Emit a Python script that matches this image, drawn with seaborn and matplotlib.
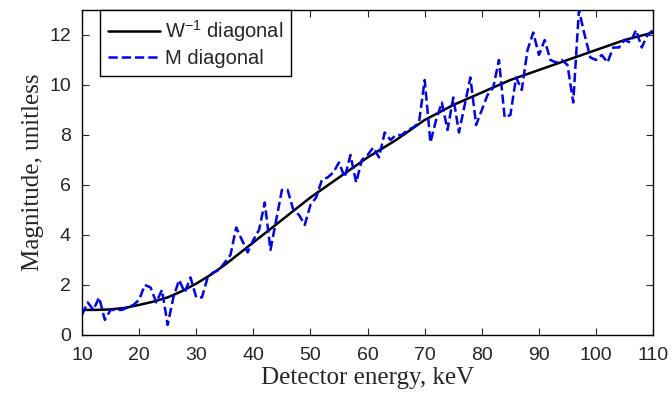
import pandas as pd
import seaborn as sns
import matplotlib
matplotlib.use("Agg")
import matplotlib.pyplot as plt

# Data

w_energy = [10, 12.5, 15, 17.5, 20, 22.5, 25, 27.5, 30, 32.5, 35, 37.5, 40, 42.5,
            45, 47.5, 50, 52.5, 55, 57.5, 60, 62.5, 65, 67.5, 70, 72.5, 75, 77.5,
            80, 82.5, 85, 87.5, 90, 92.5, 95, 97.5, 100, 102.5, 105, 107.5, 110]
w_diag = [1.0, 1.0, 1.02, 1.08, 1.2, 1.33, 1.5, 1.75, 2.05, 2.4, 2.8, 3.25, 3.7, 4.15,
          4.6, 5.05, 5.5, 5.9, 6.3, 6.7, 7.1, 7.45, 7.8, 8.2, 8.6, 8.9, 9.2, 9.45,
          9.7, 9.95, 10.2, 10.4, 10.6, 10.8, 11.0, 11.2, 11.4, 11.6, 11.8, 11.95, 12.1]

m_energy = list(range(10, 111))
m_diag = [0.8, 1.3, 1.0, 1.5, 0.6, 1.0, 1.0, 1.0, 1.1, 1.2,
          1.4, 2.0, 1.9, 1.3, 1.8, 0.4, 1.5, 2.2, 1.7, 2.3,
          1.5, 1.5, 2.3, 2.5, 2.6, 2.9, 3.2, 4.3, 3.8, 3.3,
          3.8, 4.2, 5.3, 3.4, 4.6, 5.8, 5.8, 5.0, 4.8, 4.4,
          5.2, 5.5, 6.2, 6.3, 6.5, 6.9, 6.3, 7.2, 6.1, 7.0,
          7.2, 7.5, 7.1, 8.1, 7.8, 8.0, 8.0, 8.2, 8.3, 8.5,
          10.2, 7.7, 8.6, 9.3, 8.2, 9.5, 8.1, 9.2, 10.3, 8.4,
          9.0, 9.6, 9.9, 11.0, 8.7, 8.8, 10.3, 9.8, 11.4, 12.1,
          11.2, 11.8, 11.0, 10.9, 11.0, 10.8, 9.3, 13.0, 12.0, 11.1,
          11.0, 11.2, 10.9, 11.5, 11.5, 11.8, 11.7, 12.2, 11.5, 12.0,
          12.2]

xticks = [10, 20, 30, 40, 50, 60, 70, 80, 90, 100, 110]
yticks = [0, 2, 4, 6, 8, 10, 12]

df_w = pd.DataFrame({"energy": w_energy, "value": w_diag})
df_m = pd.DataFrame({"energy": m_energy, "value": m_diag})

sns.set_style("white")
plt.rcParams["font.family"] = ["Liberation Sans", "DejaVu Sans"]
plt.rcParams["mathtext.default"] = "regular"

fig = plt.figure(figsize=(6.72, 3.94), dpi=100)
ax = fig.add_axes([0.122, 0.150, 0.850, 0.8246])

sns.lineplot(data=df_w, x="energy", y="value", color="black", linewidth=1.8,
             label="W$^{-1}$ diagonal", ax=ax)
sns.lineplot(data=df_m, x="energy", y="value", color="blue", linewidth=1.8,
             linestyle="--", dashes=(3.5, 1.6), label="M diagonal", ax=ax)

ax.set_xlim(10, 110)
ax.set_ylim(0, 13)
ax.set_xticks(xticks)
ax.set_yticks(yticks)
ax.tick_params(direction="in", length=5, width=0.8, labelsize=14,
               top=True, right=True, bottom=True, left=True)
ax.tick_params(axis="x", pad=9)
ax.tick_params(axis="y", pad=8)
for s in ax.spines.values():
    s.set_color("black")
    s.set_linewidth(1)

ax.set_xlabel("Detector energy, keV", family="Liberation Serif", fontsize=18, labelpad=2)
ax.set_ylabel("Magnitude, unitless", family="Liberation Serif", fontsize=18, labelpad=4)

leg = ax.legend(loc="upper left", bbox_to_anchor=(0.031, 1.0), fontsize=14.5,
                handlelength=2.6, handletextpad=0.25, frameon=True,
                fancybox=False, edgecolor="black", borderaxespad=0,
                borderpad=0.4, labelspacing=0.25)
leg.get_frame().set_linewidth(1)
leg.get_frame().set_alpha(1)

fig.savefig("out.png", dpi=100)
